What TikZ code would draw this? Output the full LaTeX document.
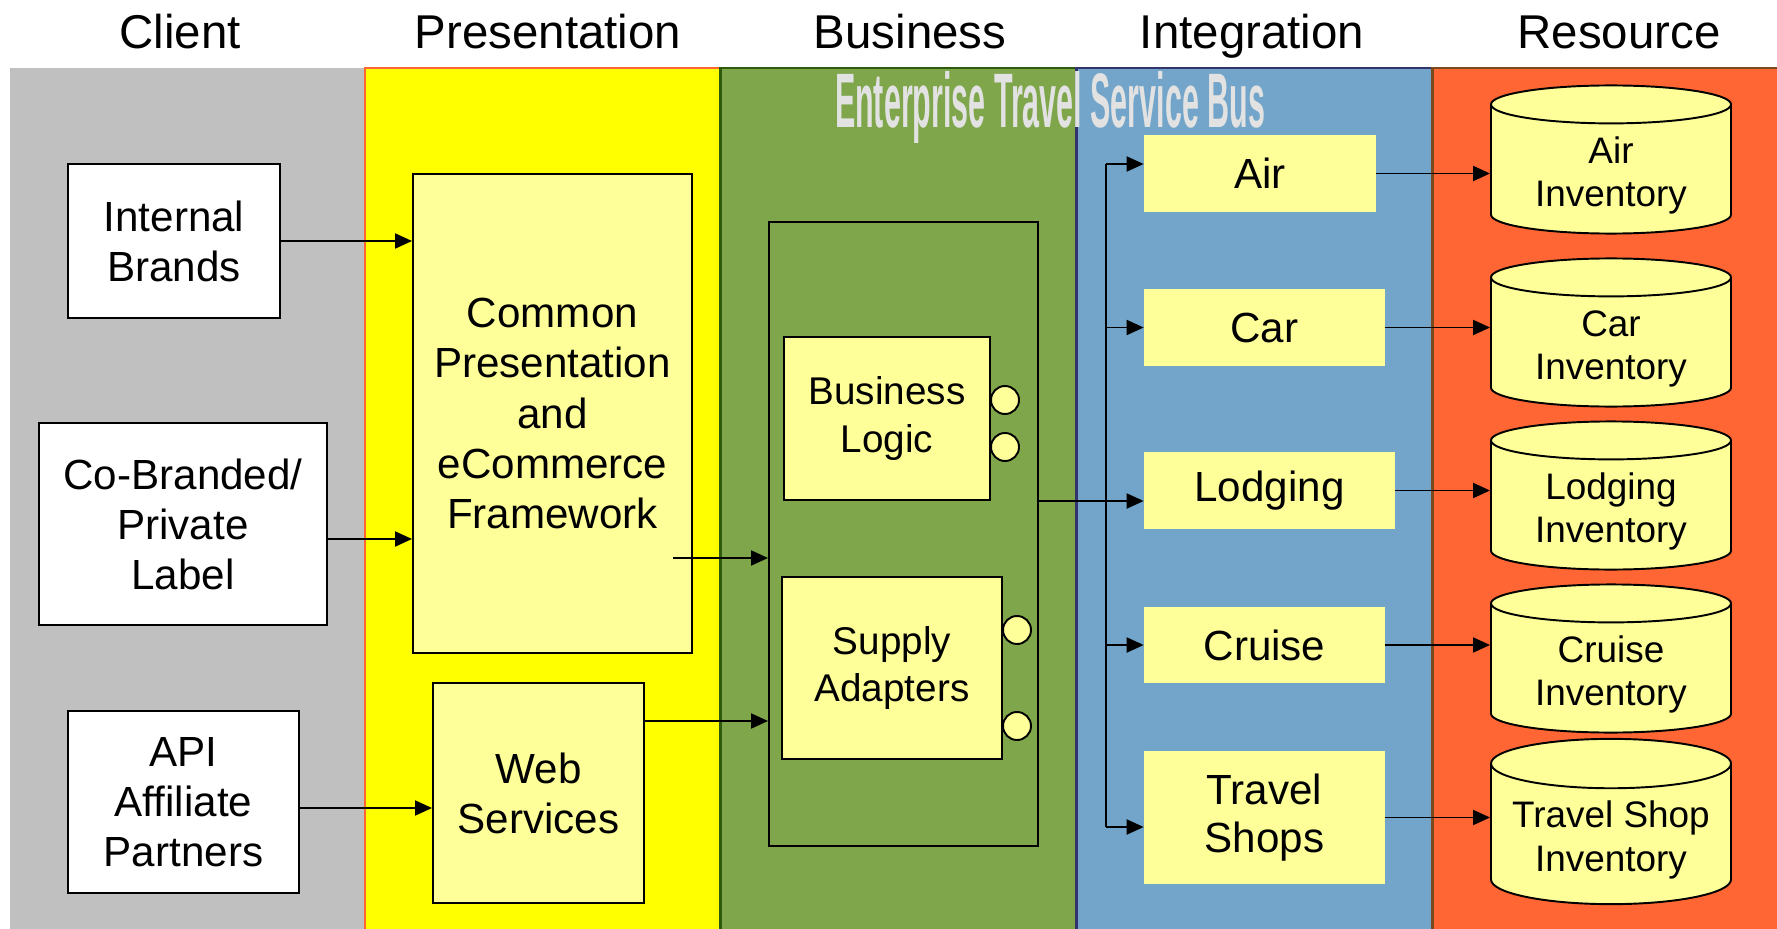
\documentclass[tikz,border=0pt]{standalone}
\usepackage{fontspec}
\setmainfont{Liberation Sans}
\usetikzlibrary{arrows.meta,shapes.geometric}
\definecolor{lanegray}{HTML}{C0C0C0}
\definecolor{laneyellow}{HTML}{FFFF00}
\definecolor{lanegreen}{HTML}{7FA64B}
\definecolor{laneblue}{HTML}{72A5C9}
\definecolor{laneorange}{HTML}{FF6633}
\definecolor{edgeorange}{HTML}{FF6633}
\definecolor{edgegreen}{HTML}{2E5A0E}
\definecolor{edgeblue}{HTML}{33336E}
\definecolor{edgebrown}{HTML}{7A4A1E}
\definecolor{paleyellow}{HTML}{FFFF99}
\definecolor{busgray}{HTML}{E2E2E2}
\newcommand{\pxu}{0.02cm}
\newcommand{\dbstrut}{\rule{0pt}{22pt}}

\begin{document}
\begin{tikzpicture}[x=0.02cm, y=-0.02cm,
  colhead/.style={anchor=base, inner sep=0pt, font=\fontsize{27}{32}\selectfont},
  box/.style={draw, line width=1.1pt, fill=white, align=center, inner sep=0pt, font=\fontsize{24}{28.5}\selectfont},
  ybox/.style={box, fill=paleyellow},
  subbox/.style={ybox, font=\fontsize{22}{27}\selectfont},
  svc/.style={fill=paleyellow, align=center, inner sep=0pt, font=\fontsize{24}{27}\selectfont},
  db/.style={cylinder, shape border rotate=90, aspect=0.25, anchor=shape center, draw, line width=1.1pt, fill=paleyellow,
    align=center, inner sep=0pt, minimum width=240*\pxu, minimum height=143*\pxu, font=\fontsize{21}{25}\selectfont},
  port/.style={circle, draw, line width=1.1pt, fill=paleyellow, minimum size=28*\pxu, inner sep=0pt},
  arr/.style={line width=1.1pt, -{Triangle[length=0.34cm,width=0.3cm]}},
  lane/.style={line width=1.7pt}]
  \clip (0,0) rectangle (1777,929);
  \fill[white] (0,0) rectangle (1777,929);

  % lanes
  \fill[lanegray] (10,68) rectangle (365,940);
  \filldraw[lane, fill=laneyellow, draw=edgeorange] (365,68) rectangle (720,940);
  \filldraw[lane, fill=lanegreen, draw=edgegreen] (720,68) rectangle (1076,940);
  \filldraw[lane, fill=laneblue, draw=edgeblue] (1076,68) rectangle (1432,940);
  \filldraw[lane, fill=laneorange, draw=edgebrown] (1432,68) rectangle (1790,940);

  % headers
  \node[colhead] (hclient) at (180,49) {Client};
  \node[colhead] (hpres) at (548,49) {Presentation};
  \node[colhead] (hbiz) at (910,49) {Business};
  \node[colhead] (hint) at (1252,49) {Integration};
  \node[colhead] (hres) at (1619,49) {Resource};
  \node[anchor=base, inner sep=0pt, text=busgray] (esb) at (1050,128)
    {\resizebox{8.6cm}{1.12cm}{\bfseries Enterprise Travel Service Bus}};

  % client and presentation
  \node[box, minimum width=212*\pxu, minimum height=154*\pxu] (ib) at (174,241) {Internal\\Brands};
  \node[box, minimum width=288*\pxu, minimum height=202*\pxu] (cob) at (183,524) {Co-Branded/\\Private\\Label};
  \node[box, minimum width=231*\pxu, minimum height=182*\pxu] (api) at (183.5,802) {API\\Affiliate\\Partners};
  \node[ybox, minimum width=279*\pxu, minimum height=479*\pxu] (cpf) at (552.5,413.5)
    {Common\\Presentation\\and\\eCommerce\\Framework};
  \node[ybox, minimum width=211*\pxu, minimum height=220*\pxu] (ws) at (538.5,793) {Web\\Services};

  % business
  \node[draw, line width=1.1pt, minimum width=269*\pxu, minimum height=624*\pxu] (biz) at (903.5,534) {};
  \node[subbox, minimum width=206*\pxu, minimum height=163*\pxu] (bl) at (887,418.5) {Business\\Logic};
  \node[subbox, minimum width=220*\pxu, minimum height=182*\pxu] (sa) at (892,668) {Supply\\Adapters};
  \node[port] (blp1) at (1005,400) {};
  \node[port] (blp2) at (1005,447) {};
  \node[port] (sap1) at (1017,630) {};
  \node[port] (sap2) at (1017,726) {};

  % integration
  \node[svc, minimum width=232*\pxu, minimum height=77*\pxu] (air) at (1260,173.5) {Air};
  \node[svc, minimum width=241*\pxu, minimum height=77*\pxu] (car) at (1264.5,327.5) {Car};
  \node[svc, minimum width=251*\pxu, minimum height=77*\pxu] (lodging) at (1269.5,490.5) {Lodging};
  \node[svc, minimum width=241*\pxu, minimum height=76*\pxu] (cruise) at (1264.5,645) {Cruise};
  \node[svc, minimum width=241*\pxu, minimum height=133*\pxu] (shops) at (1264.5,817.5) {Travel\\Shops};

  % resource
  \node[db] (airdb) at (1611,159.5) {\dbstrut Air\\Inventory};
  \node[db] (cardb) at (1611,332.5) {\dbstrut Car\\Inventory};
  \node[db] (lodgingdb) at (1611,495.5) {\dbstrut Lodging\\Inventory};
  \node[db] (cruisedb) at (1611,658.5) {\dbstrut Cruise\\Inventory};
  \node[db] (shopsdb) at (1611,821.5) {\dbstrut Travel Shop\\Inventory};

  % connectors
  \draw[arr] (ib.east) -- (ib.east -| cpf.west);
  \draw[arr] ([yshift=-0.3cm]cob.east) -- ([yshift=-0.3cm]cob.east -| cpf.west);
  \draw[arr] ([yshift=-0.12cm]api.east) -- ([yshift=-0.12cm]api.east -| ws.west);
  \coordinate (cpfout) at (673,558);
  \draw[arr] (cpfout) -- (cpfout -| biz.west);
  \draw[arr] (ws.east |- 0,721) -- (biz.west |- 0,721);
  \draw[arr] (biz.east |- 0,501) -- (lodging.west |- 0,501);
  \coordinate (bustop) at (1106,164);
  \coordinate (busbot) at (1106,827);
  \draw[line width=1.1pt] (bustop) -- (busbot);
  \draw[arr] (bustop) -- (bustop -| air.west);
  \draw[arr] (bustop |- car.west) -- (car.west);
  \draw[arr] (bustop |- cruise.west) -- (cruise.west);
  \draw[arr] (busbot) -- (busbot -| shops.west);
  \draw[arr] (air.east) -- (air.east -| airdb.west);
  \draw[arr] (car.east) -- (car.east -| cardb.west);
  \draw[arr] (lodging.east) -- (lodging.east -| lodgingdb.west);
  \draw[arr] (cruise.east) -- (cruise.east -| cruisedb.west);
  \draw[arr] (shops.east) -- (shops.east -| shopsdb.west);
\end{tikzpicture}
\end{document}
